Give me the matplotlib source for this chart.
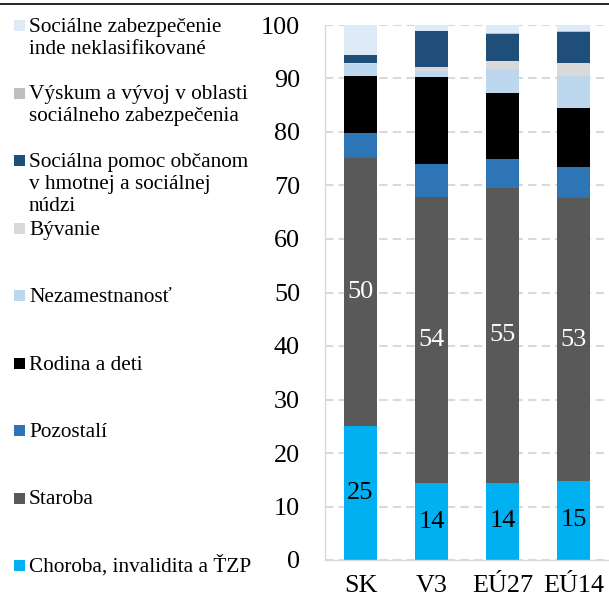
import matplotlib
matplotlib.use("Agg")
import matplotlib.pyplot as plt
from matplotlib.patches import Rectangle

# ── Data (shares of social protection spending, %) ──────────────────────
regions = ["SK", "V3", "EÚ27", "EÚ14"]

# stacked from bottom to top
series_names = [
    "Choroba, invalidita a ŤZP",
    "Staroba",
    "Pozostalí",
    "Rodina a deti",
    "Nezamestnanosť",
    "Bývanie",
    "Sociálna pomoc občanom\nv hmotnej a sociálnej\nnúdzi",
    "Výskum a vývoj v oblasti\nsociálneho zabezpečenia",
    "Sociálne zabezpečenie\ninde neklasifikované",
]
choroba = [25.0, 14.3, 14.4, 14.8]
staroba = [50.1, 53.6, 55.2, 52.8]
pozostali = [4.7, 6.2, 5.4, 5.9]
rodina = [10.7, 16.1, 12.3, 10.9]
nezamestnanost = [2.2, 1.2, 4.5, 6.1]
byvanie = [0.2, 0.7, 1.4, 2.4]
socialna_pomoc = [1.4, 6.7, 5.1, 5.8]
vyskum = [0.0, 0.05, 0.2, 0.1]
inde = [5.7, 1.2, 1.5, 1.2]

series_values = [choroba, staroba, pozostali, rodina, nezamestnanost,
                 byvanie, socialna_pomoc, vyskum, inde]
labelled = {0: "black", 1: "white"}   # series index -> label colour

# ── Style ─────────────────────────────────────────────────────────────────
COLORS = ["#00B0F0", "#595959", "#2E75B6", "#000000", "#BDD7EE",
          "#D9D9D9", "#1F4E79", "#BFBFBF", "#DEEBF7"]
GRID = "#D9D9D9"
FONT = "Liberation Serif"

W, H = 609, 599
fig = plt.figure(figsize=(W / 100, H / 100), dpi=100, facecolor="white")
plt.rcParams["font.family"] = [FONT, "DejaVu Serif"]

# chart area in pixel terms: x 325..609, y 25..560
ax = fig.add_axes([325 / W, (H - 560) / H, (W - 325) / W, 535 / H])

bottom = [0.0] * len(regions)
for i, vals in enumerate(series_values):
    bars = ax.bar(regions, vals, bottom=bottom, width=0.456,
                  color=COLORS[i], edgecolor="none", zorder=2)
    if i in labelled:
        ax.bar_label(bars, fmt="%.0f", label_type="center",
                     color=labelled[i], fontsize=19, fontfamily=FONT)
    bottom = [b + v for b, v in zip(bottom, vals)]

ax.set_xlim(-0.5, 3.5)
ax.set_ylim(0, 100)
ax.set_yticks(range(0, 101, 10))
ax.yaxis.grid(True, color=GRID, lw=1.5, ls=(0, (4, 2.5)), zorder=0)
ax.set_axisbelow(True)
for side in ("top", "right"):
    ax.spines[side].set_visible(False)
for side in ("left", "bottom"):
    ax.spines[side].set_color(GRID)
    ax.spines[side].set_linewidth(1.0)
ax.tick_params(axis="y", length=0, pad=18, labelsize=18.8)
ax.tick_params(axis="x", length=0, pad=11, labelsize=18.8)

# ── Legend drawn by hand in a pixel-space overlay ────────────────────────
ov = fig.add_axes([0, 0, 1, 1], zorder=-1)
ov.set_xlim(0, W)
ov.set_ylim(H, 0)
ov.axis("off")

slot = 67.5
line_h = 22
for k, i in enumerate(reversed(range(len(series_names)))):
    yc = 25.5 + k * slot
    ov.add_patch(Rectangle((14, yc - 5.5), 11, 11, fc=COLORS[i], ec="none"))
    for j, line in enumerate(series_names[i].split("\n")):
        ov.text(29, yc + 6.5 + j * line_h, line, fontsize=15.3,
                va="baseline", ha="left", color="black")

# cropped rule from the page above
ov.plot([0, W], [4, 4], color="black", lw=1.2)

fig.savefig("out.png", dpi=100, facecolor="white")
